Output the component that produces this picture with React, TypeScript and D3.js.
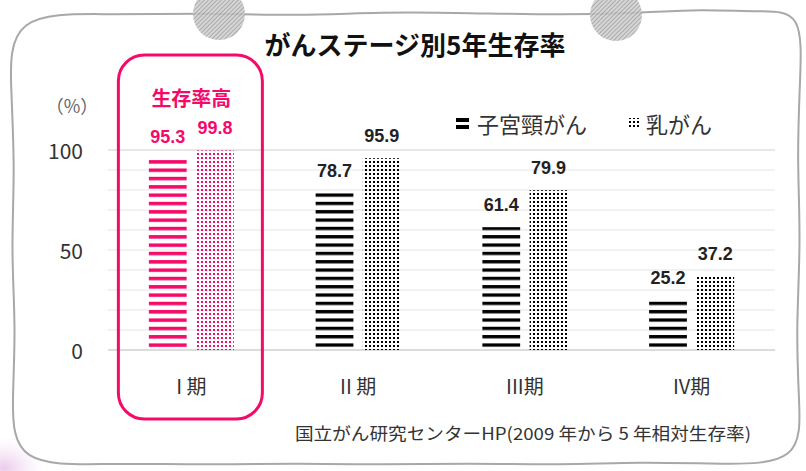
import React from 'react';
import * as d3 from 'd3';

const categories = ['I 期', 'II 期', 'III期', 'IV期'];
const seriesNames = ['子宮頸がん', '乳がん'];
const cervicalValues = [95.3, 78.7, 61.4, 25.2];
const breastValues = [99.8, 95.9, 79.9, 37.2];
const yTickLabels = [0, 50, 100];
const gridStep = 10;

const W = 806;
const H = 471;
const PINK = '#f50a6a';
const JP = '"Noto Sans CJK JP", "Noto Sans", sans-serif';
const NUM = '"Liberation Sans", Arial, sans-serif';

// paper-like wobbly border
const frameLine = d3.line<[number, number]>().curve(d3.curveBasisClosed);
const framePts: [number, number][] = [
  [9, 12], [110, 15], [200, 13], [300, 16], [380, 12], [470, 13], [560, 15],
  [640, 13], [700, 9], [760, 12], [803, 10],
  [800, 80], [797, 160], [801, 240], [796, 330], [799, 400], [802, 464],
  [720, 464], [640, 462], [560, 465], [470, 463], [380, 465], [300, 463],
  [200, 465], [110, 463], [14, 467],
  [12, 400], [16, 330], [11, 250], [15, 170], [11, 90],
];

export default function App() {
  const margin = { left: 108, right: 31, top: 150, bottom: 121 };
  const x = d3.scaleBand<string>()
    .domain(categories)
    .range([margin.left, W - margin.right]);
  const y = d3.scaleLinear().domain([0, 100]).range([H - margin.bottom, margin.top]);
  const groupW = 85;
  const x1 = d3.scaleBand<string>()
    .domain(seriesNames)
    .range([-groupW / 2, groupW / 2])
    .paddingInner(0.2);

  const grid = d3.range(0, 101, gridStep);
  const series = [
    { name: seriesNames[0], values: cervicalValues, kind: 'stripe' },
    { name: seriesNames[1], values: breastValues, kind: 'dot' },
  ];

  const cx0 = (x(categories[0]) ?? 0) + x.bandwidth() / 2;

  return (
    <svg width={W} height={H} style={{ position: 'absolute', left: 0, top: 0, display: 'block' }}>
      <defs>
        <pattern id="stripeK" patternUnits="userSpaceOnUse" width="10" height="8.33" y={y(0) - 6.6}>
          <rect width="10" height="3.3" fill="#000" />
        </pattern>
        <pattern id="stripeP" patternUnits="userSpaceOnUse" width="10" height="8.33" y={y(0) - 6.6}>
          <rect width="10" height="3.5" fill={PINK} />
        </pattern>
        <pattern id="dotK" patternUnits="userSpaceOnUse" width="4" height="4">
          <rect x="1" y="1" width="2" height="2" fill="#000" />
        </pattern>
        <pattern id="dotP" patternUnits="userSpaceOnUse" width="4" height="4">
          <rect x="1" y="1" width="2" height="2" fill={PINK} />
        </pattern>
        <pattern id="hatch" patternUnits="userSpaceOnUse" width="3" height="3" patternTransform="rotate(45)">
          <rect width="3" height="3" fill="#cfcfcf" />
          <line x1="0" y1="0" x2="0" y2="3" stroke="#707070" strokeWidth="1.1" />
        </pattern>
        <radialGradient id="pinkGlow">
          <stop offset="0%" stopColor="#e9c6ea" stopOpacity="0.9" />
          <stop offset="100%" stopColor="#f3e2f3" stopOpacity="0" />
        </radialGradient>
      </defs>

      <rect width={W} height={H} fill="#fff" />
      <ellipse cx={4} cy={468} rx={40} ry={30} fill="url(#pinkGlow)" />
      <path d={frameLine(framePts) ?? ''} fill="#fff" stroke="#a8a8a8" strokeWidth={2} />
      <circle cx={219} cy={14} r={26} fill="url(#hatch)" opacity={0.85} />
      <circle cx={616} cy={15} r={26} fill="url(#hatch)" opacity={0.85} />

      {/* title */}
      <text x={415} y={43} textAnchor="middle" dominantBaseline="central"
        fontFamily={JP} fontWeight={700} fontSize={26} fill="#111">
        がんステージ別5年生存率
      </text>

      {/* gridlines */}
      {grid.map(t => (
        <line key={t} x1={margin.left} x2={W - margin.right} y1={y(t)} y2={y(t)}
          stroke={t === 0 || t === 100 ? '#d0d0d0' : '#e6e6e6'} strokeWidth={t === 0 ? 1.5 : 1.2} />
      ))}

      {/* y axis labels */}
      {yTickLabels.map(t => (
        <text key={t} x={83} y={y(t)} textAnchor="end" dominantBaseline="central"
          fontFamily={JP} fontSize={21} fill="#333">{t}</text>
      ))}
      <text x={72} y={105} textAnchor="middle" dominantBaseline="central"
        fontFamily={JP} fontSize={18} fill="#666">（%）</text>

      {/* highlight box */}
      <rect x={cx0 - 73} y={55} width={144} height={364} rx={26} ry={26}
        fill="none" stroke={PINK} strokeWidth={3} />
      <text x={cx0} y={97} textAnchor="middle" dominantBaseline="central"
        fontFamily={JP} fontWeight={700} fontSize={20} fill={PINK}>生存率高</text>

      {/* bars */}
      {categories.map((c, i) => {
        const cx = (x(c) ?? 0) + x.bandwidth() / 2;
        const hi = i === 0;
        return (
          <g key={c}>
            {series.map(s => {
              const v = s.values[i];
              const bx = cx + (x1(s.name) ?? 0);
              const fill = s.kind === 'stripe'
                ? (hi ? 'url(#stripeP)' : 'url(#stripeK)')
                : (hi ? 'url(#dotP)' : 'url(#dotK)');
              return (
                <g key={s.name}>
                  <rect x={bx} y={y(v)} width={x1.bandwidth()} height={y(0) - y(v)} fill={fill} />
                  <text x={bx + x1.bandwidth() / 2} y={y(v) - 16} textAnchor="middle"
                    fontFamily={NUM} fontWeight={700} fontSize={18} fill={hi ? PINK : '#222'}>
                    {v.toFixed(1)}
                  </text>
                </g>
              );
            })}
            <text x={cx} y={385} textAnchor="middle" dominantBaseline="central"
              fontFamily={JP} fontSize={20} fill="#333">{c}</text>
          </g>
        );
      })}

      {/* legend */}
      <g>
        <rect x={456} y={118} width={13} height={4} fill="#000" />
        <rect x={456} y={125} width={13} height={4} fill="#000" />
        <text x={477} y={123} dominantBaseline="central" fontFamily={JP} fontSize={22} fill="#333">
          {seriesNames[0]}
        </text>
        <rect x={629} y={118} width={10} height={11} fill="url(#dotK)" />
        <text x={646} y={123} dominantBaseline="central" fontFamily={JP} fontSize={22} fill="#333">
          {seriesNames[1]}
        </text>
      </g>

      {/* source */}
      <text x={295} y={432} dominantBaseline="central" fontFamily={JP} fontSize={17} fill="#333"
        textLength={456} lengthAdjust="spacingAndGlyphs">
        国立がん研究センターHP(2009 年から 5 年相対生存率)
      </text>
    </svg>
  );
}
